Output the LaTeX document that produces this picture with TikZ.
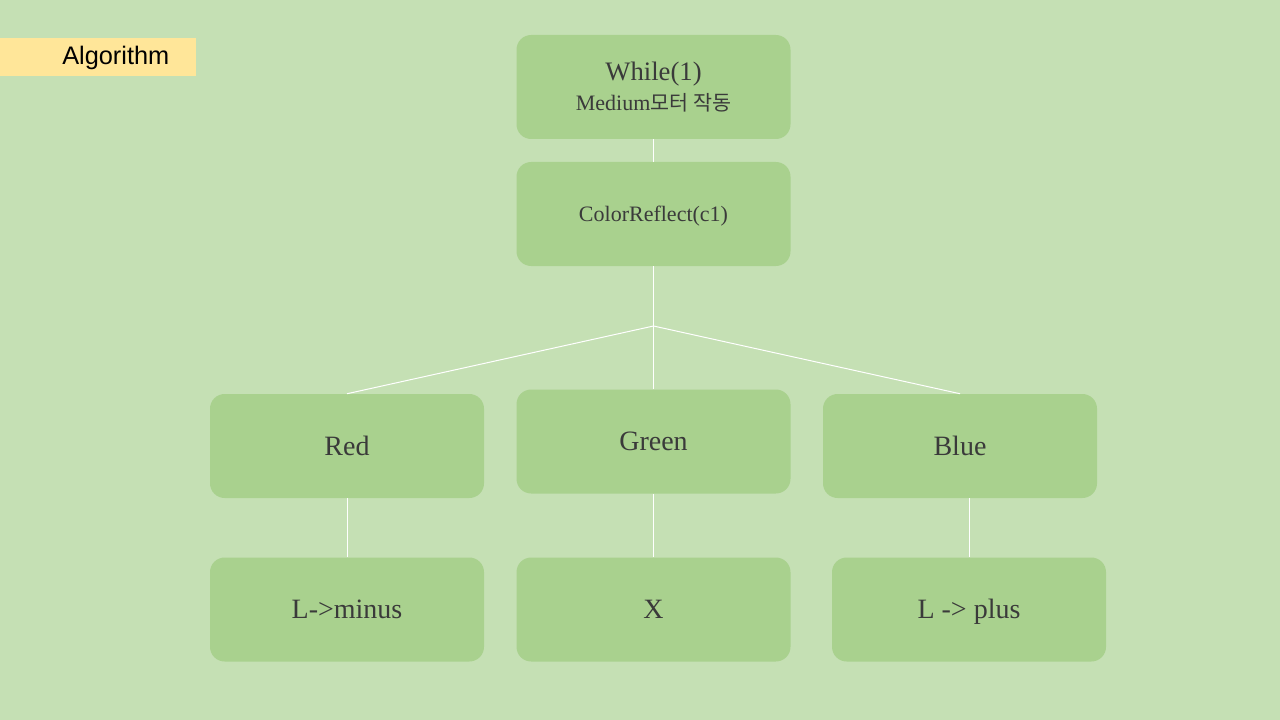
\documentclass[tikz,border=0pt]{standalone}
\usepackage{fontspec}
\setmainfont{Liberation Serif}
\newfontfamily\krfont{Noto Sans CJK KR}
\newfontfamily\labfont{Liberation Sans}
\definecolor{bgcol}{HTML}{C5E0B4}
\definecolor{boxcol}{HTML}{A9D18E}
\definecolor{labcol}{HTML}{FFE699}
\definecolor{txtcol}{HTML}{3A3A3A}
\tikzset{
  box/.style={fill=boxcol, rounded corners=11pt, inner sep=0pt, minimum width=205.5pt, minimum height=78pt, text=txtcol, align=center},
  bigtxt/.style={font=\fontsize{21}{25}\selectfont, text height=15pt, text depth=1.5pt},
  link/.style={draw=white, line width=0.75pt},
}
\begin{document}
\begin{tikzpicture}[x=0.75pt, y=-0.75pt]
\fill[bgcol] (0,0) rectangle (1280,720);
\useasboundingbox (0,0) rectangle (1280,720);
% label
\node[fill=labcol, inner sep=0pt, minimum width=147pt, minimum height=28.5pt, anchor=north west] (lab) at (0,38) {};
\node[font=\labfont\fontsize{19}{22}\selectfont, anchor=west, inner sep=0pt] (labtxt) at (62,57.5) {Algorithm};
% boxes
\node[box] (top) at (653.5,87) {{\fontsize{20}{24}\selectfont While(1)}\\[5pt]{\fontsize{16.5}{18}\selectfont Medium{\krfont\fontsize{15.5}{18}\selectfont 모터 작동}}};
\node[box, font=\fontsize{16.5}{18}\selectfont, text height=12.5pt, text depth=1.3pt] (cr) at (653.5,214) {ColorReflect(c1)};
\node[box, bigtxt] (red) at (347,446) {Red};
\node[box, bigtxt] (green) at (653.5,441.5) {Green};
\node[box, bigtxt] (blue) at (960,446) {Blue};
\node[box, bigtxt] (minus) at (347,609.5) {L->minus};
\node[box, bigtxt] (xx) at (653.5,609.5) {X};
\node[box, bigtxt] (plus) at (969,609.5) {L -> plus};
% connectors
\coordinate (j) at (653.5,326);
\draw[link] (top.south) -- (cr.north);
\draw[link] (cr.south) -- (j);
\draw[link] (j) -- (red.north);
\draw[link] (j) -- (green.north);
\draw[link] (j) -- (blue.north);
\draw[link] (red.south) -- (minus.north);
\draw[link] (green.south) -- (xx.north);
\draw[link] (plus.north |- blue.south) -- (plus.north);
\end{tikzpicture}
\end{document}
